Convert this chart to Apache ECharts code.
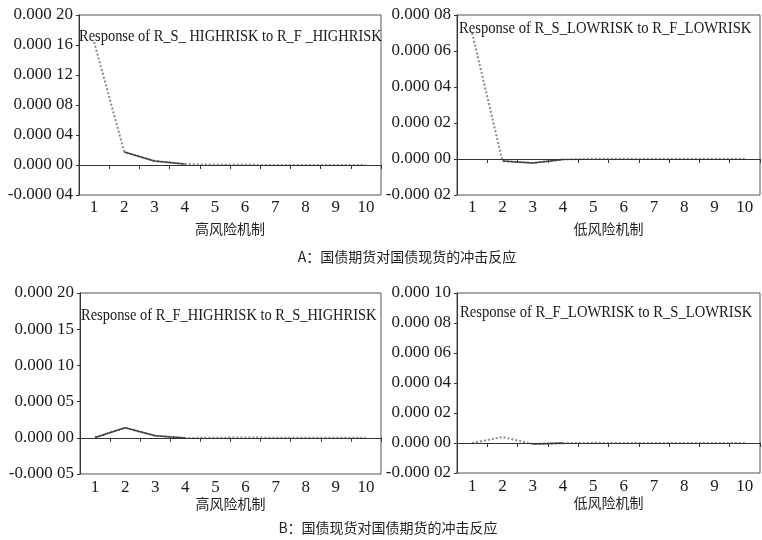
<!DOCTYPE html>
<html>
<head>
<meta charset="utf-8">
<script src="https://cdn.jsdelivr.net/npm/echarts@6/dist/echarts.min.js"></script>
<style>
  html, body { margin: 0; padding: 0; background: #fff; }
  #chart { width: 762px; height: 540px; }
</style>
</head>
<body>
<div id="chart"></div>
<script>
// periods on x axis
var periods = ['1', '2', '3', '4', '5', '6', '7', '8', '9', '10']

// A: 国债期货对国债现货的冲击反应
var respSHighToFHigh = [0.000164, 0.0000173, 0.0000053, 0.0000013, 0.0000004, 0.0000002, 0.0000001, 0, 0, 0]
var respSLowToFLow = [0.00007, -0.0000011, -0.0000022, -0.0000003, 0.0000002, 0.0000001, 0, 0, 0, 0]
// B: 国债现货对国债期货的冲击反应
var respFHighToSHigh = [0.0000005, 0.0000139, 0.0000028, -0.0000003, 0.0000002, 0.0000003, 0.0000002, 0.0000001, 0.0000001, 0]
var respFLowToSLow = [0, 0.000004, -0.0000007, -0.0000001, 0.0000001, 0, 0, 0, 0, 0]

var panelTitles = [
  'Response of R_S_ HIGHRISK to R_F _HIGHRISK',
  'Response of R_S_LOWRISK to R_F_LOWRISK',
  'Response of R_F_HIGHRISK to R_S_HIGHRISK',
  'Response of R_F_LOWRISK to R_S_LOWRISK'
]
var regimeNames = ['高风险机制', '低风险机制', '高风险机制', '低风险机制']
var captions = ['A：国债期货对国债现货的冲击反应', 'B：国债现货对国债期货的冲击反应']

// y axis ranges [min, max, interval]
var yRanges = [
  [-0.00004, 0.0002, 0.00004],
  [-0.00002, 0.00008, 0.00002],
  [-0.00005, 0.0002, 0.00005],
  [-0.00002, 0.0001, 0.00002]
]

var serif = '"Liberation Serif", "DejaVu Serif", serif'
var cjk = '"Noto Sans CJK SC", sans-serif'

var grids = [
  { left: 79, top: 15, width: 302, height: 180 },
  { left: 457, top: 15, width: 303, height: 180 },
  { left: 80, top: 293, width: 301, height: 181 },
  { left: 457, top: 293, width: 303, height: 180 }
]
var nameGaps = [27, 27, 19, 19]
var labelMargins = [4, 4, 5, 5]
// title left x, middle y, horizontal squeeze
var titlePos = [[79, 37, 0.85], [459, 29, 0.86], [81, 316, 0.85], [460, 313, 0.86]]
// which segment of the response is drawn solid (the rest is the dotted line)
var solidSpans = [[1, 3], [1, 3], [0, 3], [2, 3]]

var allResp = [respSHighToFHigh, respSLowToFLow, respFHighToSHigh, respFLowToSLow]

function fmtTick (v) {
  var s = Math.abs(v) < 1e-12 ? '0.00000' : v.toFixed(5)
  var i = s.indexOf('.')
  return s.slice(0, i + 4) + ' ' + s.slice(i + 4)
}

var xAxes = []
var yAxes = []
var series = []
var texts = []

grids.forEach(function (g, k) {
  g.show = true
  g.borderColor = '#555'
  g.borderWidth = 1
  g.backgroundColor = '#fff'
  xAxes.push({
    gridIndex: k,
    type: 'category',
    data: periods,
    boundaryGap: true,
    name: regimeNames[k],
    nameLocation: 'middle',
    nameGap: nameGaps[k],
    nameTextStyle: { fontFamily: cjk, fontSize: 14, color: '#222' },
    axisLine: { lineStyle: { color: '#333', width: 1 } },
    axisTick: { show: true, length: 4, lineStyle: { color: '#333' } },
    axisLabel: { fontFamily: serif, fontSize: 17, color: '#1a1a1a', margin: labelMargins[k] },
    splitLine: { show: false }
  })
  yAxes.push({
    gridIndex: k,
    type: 'value',
    min: yRanges[k][0],
    max: yRanges[k][1],
    interval: yRanges[k][2],
    axisLine: { show: true, lineStyle: { color: '#333', width: 1 } },
    axisTick: { show: true, length: 3, lineStyle: { color: '#333' } },
    axisLabel: { fontFamily: serif, fontSize: 17, color: '#1a1a1a', margin: 6, formatter: fmtTick },
    splitLine: { show: false }
  })
  var resp = allResp[k]
  var span = solidSpans[k]
  series.push({
    type: 'line',
    xAxisIndex: k,
    yAxisIndex: k,
    data: resp,
    symbol: 'none',
    silent: true,
    lineStyle: { color: '#8a8a8a', width: 2, type: 'dotted' },
    markLine: {
      silent: true,
      symbol: 'none',
      label: { show: false },
      lineStyle: { color: '#333', width: 1, type: 'solid' },
      data: [{ yAxis: 0 }]
    },
    z: 3
  })
  series.push({
    type: 'line',
    xAxisIndex: k,
    yAxisIndex: k,
    data: resp.map(function (v, i) { return (i >= span[0] && i <= span[1]) ? v : null }),
    symbol: 'none',
    silent: true,
    lineStyle: { color: '#444', width: 1.6 },
    z: 4
  })
  texts.push({
    type: 'text',
    x: titlePos[k][0],
    y: titlePos[k][1],
    scaleX: titlePos[k][2],
    z: 10,
    style: {
      text: panelTitles[k],
      font: '17px ' + serif,
      fill: '#1a1a1a',
      textAlign: 'left',
      textVerticalAlign: 'middle'
    }
  })
})

texts.push({ type: 'text', x: 407, y: 257, style: { text: captions[0], font: '14px ' + cjk, fill: '#222', textAlign: 'center', textVerticalAlign: 'middle' } })
texts.push({ type: 'text', x: 388, y: 528, style: { text: captions[1], font: '14px ' + cjk, fill: '#222', textAlign: 'center', textVerticalAlign: 'middle' } })

var chart = echarts.init(document.getElementById('chart'))
chart.setOption({
  animation: false,
  backgroundColor: '#fff',
  grid: grids,
  xAxis: xAxes,
  yAxis: yAxes,
  series: series,
  graphic: texts
})
</script>
</body>
</html>
